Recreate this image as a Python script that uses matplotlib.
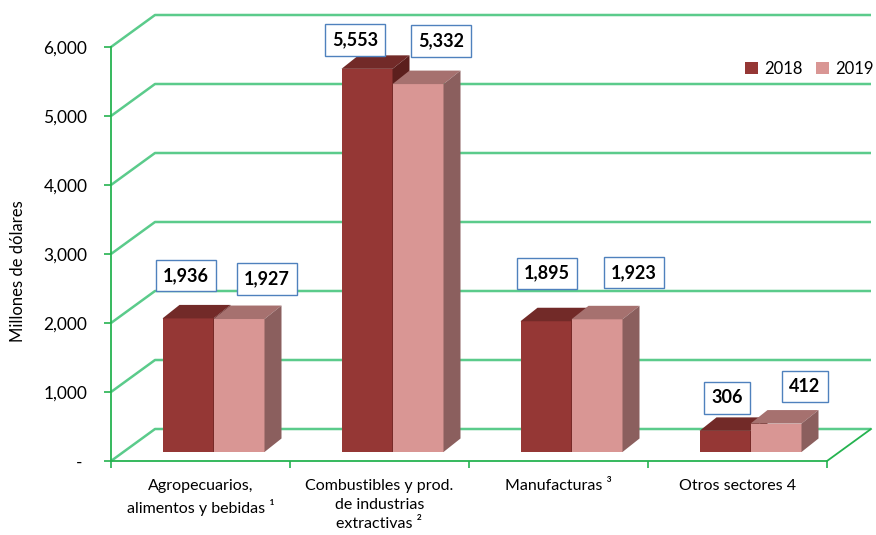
import matplotlib
matplotlib.use('Agg')
import matplotlib.pyplot as plt
from matplotlib.patches import Polygon, Patch

# ---------------- data ----------------
categories = ['Agropecuarios,\nalimentos y bebidas ¹',
              'Combustibles y prod.\nde industrias\nextractivas ²',
              'Manufacturas ³',
              'Otros sectores 4']
series_names = ['2018', '2019']
values_2018 = [1936, 5553, 1895, 306]
values_2019 = [1927, 5332, 1923, 412]
y_ticks = [0, 1000, 2000, 3000, 4000, 5000, 6000]
y_tick_labels = ['- ', '1,000', '2,000', '3,000', '4,000', '5,000', '6,000']
y_label = 'Millones de dólares'

# ---------------- style ----------------
plt.rcParams['font.family'] = ['Lato', 'DejaVu Sans']
W, H = 876, 535
fig = plt.figure(figsize=(W / 100, H / 100), dpi=100)
PX_X = 179.0          # pixels per category
PX_Y = 0.069          # pixels per unit value
ax = fig.add_axes([111 / W, 74 / H, 760 / W, 446 / H])
ax.set_xlim(0, 760 / PX_X)
ax.set_ylim(0, 446 / PX_Y)

GRID = '#5BCB8B'
AXIS = '#25B350'
colors = {
    '2018': dict(front='#953735', top='#722A28', side='#5C1F1D'),
    '2019': dict(front='#D99694', top='#A6716F', side='#8B5F5E'),
}

# 3-D geometry (data units)
DX, DY = 44 / PX_X, 32 / PX_Y        # wall depth
FX, FY = 13 / PX_X, 9 / PX_Y         # bar front plane offset
BDX, BDY = 17 / PX_X, 13.5 / PX_Y    # bar depth
BW = 51 / PX_X                       # bar width
ncat = len(categories)

# gridlines (wall)
for v in y_ticks:
    ax.plot([0, DX, ncat + DX], [v, v + DY, v + DY], color=GRID, lw=1.8,
            solid_capstyle='butt', zorder=1, clip_on=False)
ax.plot([ncat, ncat + DX], [0, DY], color=AXIS, lw=1.3, zorder=1, clip_on=False)

# bars
def draw_bar(x0, v, c):
    y0 = FY
    y1 = FY + v
    front = Polygon([(x0, y0), (x0 + BW, y0), (x0 + BW, y1), (x0, y1)],
                    closed=True, fc=c['front'], ec='none', zorder=3)
    top = Polygon([(x0, y1), (x0 + BW, y1), (x0 + BW + BDX, y1 + BDY), (x0 + BDX, y1 + BDY)],
                  closed=True, fc=c['top'], ec='none', zorder=3)
    side = Polygon([(x0 + BW, y0), (x0 + BW + BDX, y0 + BDY), (x0 + BW + BDX, y1 + BDY), (x0 + BW, y1)],
                   closed=True, fc=c['side'], ec='none', zorder=3)
    for p in (front, top, side):
        p.set_clip_on(False)
        ax.add_patch(p)

label_offsets = {  # pixel offsets of label boxes from bar front-top centre
    ('2018', 0): (-2, 43), ('2019', 0): (28, 40),
    ('2018', 1): (-12, 29), ('2019', 1): (23, 43),
    ('2018', 2): (1, 48), ('2019', 2): (37, 47),
    ('2018', 3): (2, 33), ('2019', 3): (29, 37),
}

series_values = {'2018': values_2018, '2019': values_2019}
for i in range(ncat):
    for k, name in enumerate(series_names):
        x0 = i + 0.5 - BW + k * BW + FX
        v = series_values[name][i]
        draw_bar(x0, v, colors[name])

for i in range(ncat):
    for k, name in enumerate(series_names):
        x0 = i + 0.5 - BW + k * BW + FX
        v = series_values[name][i]
        ox, oy = label_offsets[(name, i)]
        ax.annotate(f'{v:,}', xy=(x0 + BW / 2, FY + v), xytext=(ox, oy),
                    textcoords='offset pixels', ha='center', va='center',
                    fontsize=13, fontweight='bold', color='black', zorder=6,
                    annotation_clip=False,
                    bbox=dict(boxstyle='square,pad=0.4', fc='white', ec='#4F81BD', lw=1.0))

# axes / ticks
for s in ('top', 'right'):
    ax.spines[s].set_visible(False)
ax.spines['left'].set_bounds(0, 6000)
ax.spines['bottom'].set_bounds(0, ncat)
for s in ('left', 'bottom'):
    ax.spines[s].set_color(AXIS)
    ax.spines[s].set_linewidth(1.3)
    ax.spines[s].set_zorder(2)

ax.set_yticks(y_ticks, y_tick_labels)
ax.tick_params(axis='y', length=5, width=1.2, color=AXIS, pad=12, labelsize=12.5)
ax.set_xticks([i + 0.5 for i in range(ncat)], categories)
ax.set_xticks(list(range(ncat + 1)), minor=True)
ax.tick_params(axis='x', which='major', length=0, pad=13, labelsize=11.5)
ax.tick_params(axis='x', which='minor', length=5, width=1.2, color=AXIS)
for lab in ax.get_xticklabels():
    lab.set_linespacing(1.45)

fig.text(18 / W, 1 - 271 / H, y_label, rotation=90, ha='center', va='center', fontsize=12)

handles = [Patch(fc=colors[n]['front'], ec='none', label=n) for n in series_names]
fig.legend(handles=handles, loc='center right', bbox_to_anchor=(874 / W, 1 - 69 / H),
           ncol=2, frameon=False, fontsize=12, handlelength=0.75, handleheight=0.75,
           handletextpad=0.4, columnspacing=0.8, borderaxespad=0, borderpad=0)

fig.savefig('out.png', dpi=100)
